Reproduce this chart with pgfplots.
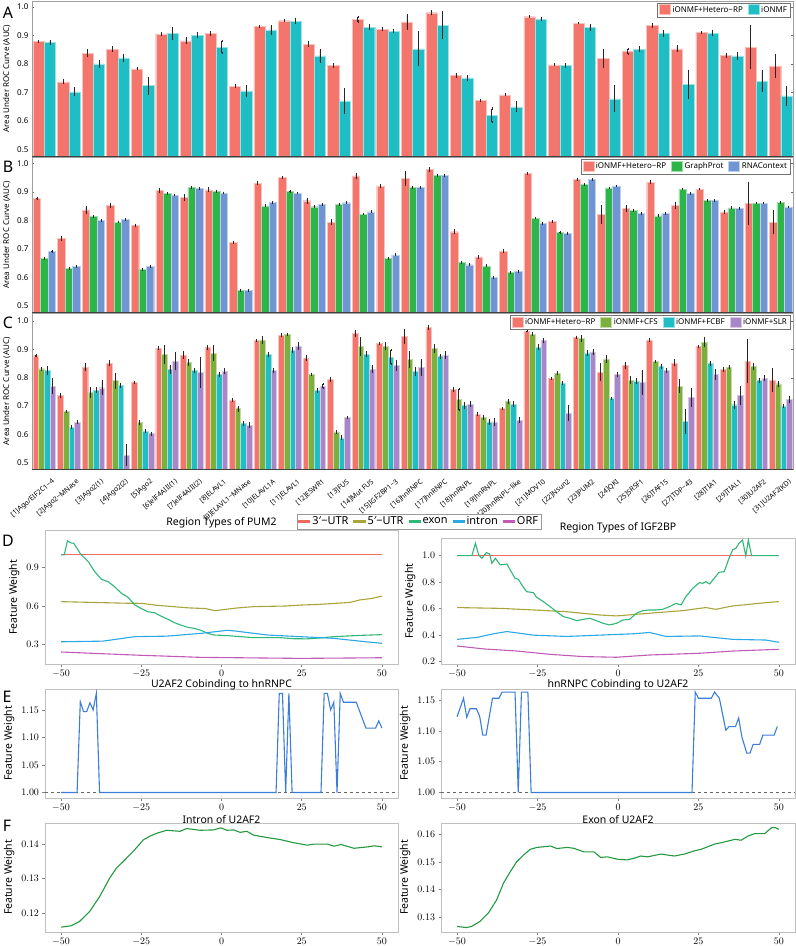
\documentclass[border=0pt]{standalone}
\usepackage{pgfplots}
\pgfplotsset{compat=1.18}
\usepackage{pgfplotstable}
\usepackage{fontspec}
\setmainfont{Noto Sans}
\setsansfont{Noto Sans}
\definecolor{cR}{HTML}{F4756C}
\definecolor{cC}{HTML}{1FBEC4}
\definecolor{cG}{HTML}{2DB54A}
\definecolor{cB}{HTML}{6F95D2}
\definecolor{cO}{HTML}{7DAF3C}
\definecolor{cP}{HTML}{A887C8}
\definecolor{lthree}{HTML}{F06A60}
\definecolor{lfive}{HTML}{A8A53A}
\definecolor{lex}{HTML}{2DB878}
\definecolor{lin}{HTML}{2BA8E6}
\definecolor{lorf}{HTML}{C25AB8}
\definecolor{eblue}{HTML}{3B7DD8}
\definecolor{fgreen}{HTML}{23993F}
\definecolor{frame}{HTML}{A0A0A0}

\pgfplotstableread{
x r re c ce
1 0.878 0.002 0.876 0.005
2 0.737 0.005 0.702 0.012
3 0.837 0.010 0.800 0.009
4 0.852 0.006 0.821 0.010
5 0.783 0.002 0.724 0.028
6 0.905 0.004 0.907 0.018
7 0.881 0.009 0.900 0.007
8 0.907 0.005 0.859 0.022
9 0.722 0.003 0.706 0.017
10 0.931 0.002 0.919 0.014
11 0.951 0.002 0.950 0.006
12 0.869 0.006 0.828 0.020
13 0.794 0.006 0.671 0.042
14 0.956 0.008 0.928 0.006
15 0.921 0.003 0.915 0.004
16 0.947 0.023 0.853 0.058
17 0.979 0.005 0.936 0.044
18 0.760 0.005 0.751 0.006
19 0.672 0.003 0.620 0.024
20 0.692 0.002 0.650 0.016
21 0.965 0.001 0.957 0.002
22 0.797 0.001 0.794 0.005
23 0.943 0.001 0.927 0.007
24 0.820 0.029 0.678 0.044
25 0.843 0.008 0.851 0.007
26 0.934 0.004 0.906 0.008
27 0.853 0.008 0.729 0.047
28 0.910 0.001 0.908 0.008
29 0.830 0.004 0.828 0.009
30 0.859 0.073 0.740 0.034
31 0.793 0.038 0.688 0.031
}\tA

\pgfplotstableread{
x r re g ge b be
1 0.878 0.002 0.666 0.001 0.691 0.001
2 0.737 0.005 0.631 0.001 0.639 0.001
3 0.837 0.010 0.814 0.001 0.800 0.001
4 0.852 0.006 0.794 0.001 0.804 0.001
5 0.783 0.002 0.627 0.001 0.638 0.001
6 0.905 0.004 0.895 0.001 0.889 0.001
7 0.881 0.009 0.916 0.001 0.913 0.001
8 0.907 0.005 0.902 0.001 0.896 0.001
9 0.722 0.003 0.554 0.001 0.554 0.001
10 0.931 0.002 0.851 0.001 0.863 0.001
11 0.951 0.002 0.902 0.001 0.896 0.001
12 0.869 0.006 0.848 0.001 0.856 0.001
13 0.794 0.006 0.857 0.001 0.862 0.001
14 0.956 0.008 0.822 0.001 0.830 0.001
15 0.921 0.003 0.666 0.001 0.679 0.001
16 0.947 0.023 0.916 0.001 0.916 0.001
17 0.979 0.005 0.958 0.001 0.958 0.001
18 0.760 0.005 0.653 0.001 0.644 0.001
19 0.672 0.003 0.640 0.001 0.599 0.001
20 0.692 0.002 0.616 0.001 0.620 0.001
21 0.965 0.001 0.808 0.001 0.790 0.001
22 0.797 0.001 0.758 0.001 0.755 0.001
23 0.943 0.001 0.926 0.001 0.943 0.001
24 0.820 0.029 0.914 0.001 0.921 0.001
25 0.843 0.008 0.835 0.001 0.825 0.001
26 0.934 0.004 0.816 0.001 0.824 0.001
27 0.853 0.008 0.910 0.001 0.894 0.001
28 0.910 0.001 0.870 0.001 0.871 0.001
29 0.830 0.004 0.844 0.001 0.843 0.001
30 0.859 0.073 0.861 0.001 0.861 0.001
31 0.793 0.038 0.864 0.001 0.847 0.001
}\tB

\pgfplotstableread{
x r re g ge c ce p pe
1 0.878 0.002 0.832 0.004 0.826 0.012 0.770 0.025
2 0.737 0.005 0.682 0.002 0.626 0.002 0.643 0.003
3 0.837 0.010 0.749 0.015 0.756 0.006 0.765 0.022
4 0.852 0.006 0.790 0.024 0.773 0.005 0.527 0.036
5 0.783 0.002 0.642 0.005 0.613 0.003 0.603 0.003
6 0.905 0.004 0.883 0.030 0.829 0.012 0.859 0.028
7 0.881 0.009 0.854 0.008 0.826 0.004 0.819 0.050
8 0.907 0.005 0.887 0.024 0.812 0.006 0.824 0.006
9 0.722 0.003 0.691 0.007 0.638 0.004 0.633 0.006
10 0.931 0.002 0.934 0.010 0.883 0.004 0.826 0.006
11 0.951 0.002 0.954 0.002 0.899 0.006 0.913 0.010
12 0.869 0.006 0.812 0.002 0.756 0.005 0.770 0.007
13 0.794 0.006 0.609 0.003 0.588 0.005 0.660 0.003
14 0.956 0.008 0.911 0.030 0.883 0.006 0.830 0.010
15 0.921 0.003 0.911 0.010 0.873 0.025 0.843 0.015
16 0.947 0.023 0.865 0.025 0.822 0.012 0.836 0.025
17 0.979 0.005 0.903 0.012 0.876 0.004 0.880 0.010
18 0.760 0.005 0.723 0.038 0.703 0.008 0.707 0.006
19 0.672 0.003 0.660 0.006 0.644 0.008 0.644 0.010
20 0.692 0.002 0.716 0.006 0.707 0.006 0.650 0.006
21 0.965 0.001 0.954 0.004 0.908 0.007 0.931 0.005
22 0.797 0.001 0.816 0.003 0.782 0.004 0.676 0.025
23 0.943 0.001 0.940 0.008 0.888 0.006 0.891 0.007
24 0.820 0.029 0.867 0.010 0.727 0.003 0.811 0.006
25 0.843 0.008 0.791 0.010 0.789 0.006 0.784 0.040
26 0.934 0.004 0.858 0.002 0.840 0.004 0.826 0.004
27 0.853 0.008 0.771 0.020 0.647 0.040 0.730 0.030
28 0.910 0.001 0.926 0.015 0.850 0.005 0.812 0.015
29 0.830 0.004 0.838 0.004 0.705 0.010 0.737 0.030
30 0.859 0.073 0.840 0.010 0.791 0.006 0.799 0.006
31 0.793 0.038 0.779 0.006 0.701 0.003 0.724 0.008
}\tC

\pgfplotsset{
  barax/.style={
    scale only axis, width=761bp, xmin=0.5, xmax=31.5,
    xtick={1,...,31}, xticklabels={},
    ytick={0.5,0.6,0.7,0.8,0.9,1.0},
    ybar=0pt, clip=true,
    axis line style={draw=frame, line width=0.8bp},
    major tick length=2bp, ytick style={draw=black!60}, xtick style={draw=none},
    yticklabel style={font=\fontsize{8}{9}\selectfont, /pgf/number format/fixed, /pgf/number format/fixed zerofill, /pgf/number format/precision=1, /pgf/number format/assume math mode=true},
    ylabel={Area Under ROC Curve (AUC)},
    ylabel style={font=\fontsize{8}{9}\selectfont},
    legend style={draw=black!55, line width=0.6bp, font=\fontsize{8}{9}\selectfont, legend columns=-1, at={(0.997,0.99)}, anchor=north east, inner sep=1.5bp, /tikz/every even column/.append style={column sep=3bp}},
    legend image code/.code={\fill[##1] (0bp,-4.5bp) rectangle (11bp,5.5bp);},
    after end axis/.code={\draw[black!75, line width=0.9bp] (rel axis cs:0,0) -- (rel axis cs:1,0);},
  },
  bar/.style={fill=#1, draw=#1!45!white, line width=0.4bp,
    error bars/y dir=both, error bars/y explicit,
    error bars/error bar style={black!85, line width=0.6bp},
    error bars/error mark options={black!85, mark size=1.1bp, line width=0.5bp}},
  lineax/.style={
    scale only axis, xmin=-55, xmax=55, xtick={-50,-25,0,25,50},
    axis line style={draw=black!25, line width=0.9bp},
    tick style={draw=black!50, line width=0.5bp}, major tick length=2.5bp, tick align=outside, tick pos=left,
    ticklabel style={font=\fontsize{10}{12}\selectfont},
    scaled y ticks=false,
    ylabel={Feature Weight}, ylabel style={font=\fontsize{10.5}{12}\selectfont},
    title style={font=\fontsize{10.5}{12}\selectfont},
    every axis plot/.append style={line width=1.1bp, mark=none},
  },
  legline/.style={draw=#1, legend image code/.code={\fill[fill=#1!80!white] (0bp,-0.6bp) rectangle (11bp,0.6bp);}},
}

\begin{document}
\begin{tikzpicture}
\path[use as bounding box] (0,0) rectangle (796bp,-946bp);

% ---------- A ----------
\begin{axis}[barax, at={(32bp,-1bp)}, anchor=north west, height=155bp, ymin=0.478, ymax=1.02, bar width=11.3bp]
\addplot[bar=cR] table[x=x,y=r,y error=re]{\tA};
\addplot[bar=cC] table[x=x,y=c,y error=ce]{\tA};
\legend{iONMF+Hetero−RP, iONMF}
\end{axis}

% ---------- B ----------
\begin{axis}[barax, at={(32bp,-157.5bp)}, anchor=north west, height=155bp, ymin=0.476, ymax=1.021, bar width=7.5bp]
\addplot[bar=cR] table[x=x,y=r,y error=re]{\tB};
\addplot[bar=cG] table[x=x,y=g,y error=ge]{\tB};
\addplot[bar=cB] table[x=x,y=b,y error=be]{\tB};
\legend{iONMF+Hetero−RP, GraphProt, RNAContext}
\end{axis}

% ---------- C ----------
\begin{axis}[barax, at={(32bp,-313.5bp)}, anchor=north west, height=155.5bp, ymin=0.478, ymax=1.027, bar width=5.65bp,
  xticklabels={{[1]Ago/EIF2C1−4},{[2]Ago2−MNase},{[3]Ago2(1)},{[4]Ago2(2)},{[5]Ago2},{[6]eIF4AIII(1)},{[7]eIF4AIII(2)},{[8]ELAVL1},{[9]ELAVL1−MNase},{[10]ELAVL1A},{[11]ELAVL1},{[12]ESWR1},{[13]FUS},{[14]Mut FUS},{[15]IGF2BP1−3},{[16]hnRNPC},{[17]hnRNPC},{[18]hnRNPL},{[19]hnRNPL},{[20]hnRNPL−like},{[21]MOV10},{[22]Nsun2},{[23]PUM2},{[24]QKI},{[25]SRSF1},{[26]TAF15},{[27]TDP−43},{[28]TIA1},{[29]TIAL1},{[30]U2AF2},{[31]U2AF2(KD)}},
  xticklabel style={font=\fontsize{7}{8}\selectfont, xshift=9.5bp, yshift=-10bp, rotate=40, anchor=east, inner sep=0pt}]
\addplot[bar=cR] table[x=x,y=r,y error=re]{\tC};
\addplot[bar=cO] table[x=x,y=g,y error=ge]{\tC};
\addplot[bar=cC] table[x=x,y=c,y error=ce]{\tC};
\addplot[bar=cP] table[x=x,y=p,y error=pe]{\tC};
\legend{iONMF+Hetero−RP, iONMF+CFS, iONMF+FCBF, iONMF+SLR}
\end{axis}

% ---------- D left ----------
\begin{axis}[lineax, at={(45bp,-530.5bp)}, anchor=north west, width=353bp, height=133.5bp,
  ymin=0.146, ymax=1.191, ytick={0.3,0.6,0.9},
  yticklabel style={/pgf/number format/.cd, fixed, fixed zerofill, precision=1},
  title={Region Types of PUM2}, title style={yshift=-7bp},
  legend style={at={(0.714,1.127)}, anchor=north west, legend columns=-1, draw=black!40, line width=0.6bp,
    font=\fontsize{11}{13}\selectfont, inner sep=1bp, /tikz/every even column/.append style={column sep=3bp}}]
\addplot[legline=lthree] coordinates {(-50,1.0) (50,1.0)};
\addplot[legline=lfive] coordinates {(-50,0.634) (-40,0.628) (-30,0.622) (-25,0.621) (-20,0.605) (-15,0.595) (-10,0.585) (-5,0.58) (-2,0.563) (0,0.57) (5,0.585) (10,0.595) (20,0.6) (25,0.608) (30,0.612) (35,0.62) (40,0.628) (43,0.647) (47,0.66) (50,0.678)};
\addplot[legline=lex] coordinates {(-50,1.0) (-49,1.0) (-48,1.11) (-47,1.095) (-46,1.09) (-44,1.01) (-41.5,0.947) (-39.5,0.869) (-37.4,0.809) (-35.3,0.79) (-33.3,0.75) (-31.2,0.70) (-29.1,0.668) (-27.1,0.61) (-25,0.58) (-22.9,0.555) (-20.9,0.548) (-18.8,0.52) (-16.7,0.496) (-14.7,0.47) (-12.6,0.45) (-10.5,0.433) (-8.5,0.425) (-6.4,0.41) (-4.3,0.386) (-2.3,0.373) (1.9,0.368) (6,0.36) (10.1,0.352) (14.3,0.352) (18.4,0.352) (22.5,0.344) (26.7,0.343) (30.8,0.35) (34.9,0.36) (39,0.365) (43.2,0.37) (50,0.376)};
\addplot[legline=lin] coordinates {(-50,0.32) (-37,0.325) (-27,0.36) (-17,0.364) (-6.4,0.386) (1.9,0.41) (4,0.405) (14.3,0.373) (24.6,0.36) (34.9,0.347) (45,0.32) (50,0.308)};
\addplot[legline=lorf] coordinates {(-50,0.24) (-27,0.216) (-6.4,0.198) (24.6,0.19) (50,0.195)};
\legend{3′−UTR, 5′−UTR, exon, intron, ORF}
\end{axis}

% ---------- D right ----------
\begin{axis}[lineax, at={(441bp,-538bp)}, anchor=north west, width=354bp, height=126bp,
  ymin=0.182, ymax=1.133, ytick={0.2,0.4,0.6,0.8,1.0},
  yticklabel style={/pgf/number format/.cd, fixed, fixed zerofill, precision=1},
  title={Region Types of IGF2BP}, title style={yshift=-5bp}]
\addplot[draw=lthree] coordinates {(-50,1.0) (50,1.0)};
\addplot[draw=lfive] coordinates {(-50,0.608) (-36.6,0.602) (-26.3,0.590) (-16,0.577) (-5.7,0.552) (-0.5,0.545) (9.8,0.565) (20.1,0.585) (27.3,0.608) (30.4,0.595) (35.6,0.620) (45.9,0.645) (50,0.653)};
\addplot[draw=lex] coordinates {(-50,1.0) (-45.4,1.0) (-44.3,1.093) (-43.3,1.005) (-42.3,0.980) (-40.9,1.023) (-39.9,1.013) (-39.2,0.942) (-38.1,0.98) (-36.6,0.93) (-34.5,0.937) (-33.5,0.892) (-32,0.829) (-30.9,0.821) (-29.9,0.779) (-28.4,0.728) (-26.3,0.721) (-25.3,0.686) (-23.2,0.653) (-21.1,0.615) (-19.1,0.577) (-17,0.540) (-14.9,0.527) (-12.9,0.509) (-10.8,0.519) (-8.8,0.527) (-6.7,0.509) (-4.6,0.489) (-2.6,0.477) (-0.5,0.489) (1.5,0.514) (3.6,0.519) (5.7,0.565) (7.7,0.585) (9.8,0.590) (11.9,0.590) (13.9,0.595) (16,0.615) (18,0.640) (19.6,0.628) (21.1,0.691) (23.2,0.753) (25.3,0.796) (26.3,0.791) (27.3,0.804) (28.4,0.786) (29.9,0.829) (31.4,0.874) (33,0.879) (34.5,0.980) (35.6,1.043) (36.6,1.055) (37.6,1.093) (38.7,1.118) (39.7,0.997) (40.5,1.118) (41.5,1.0) (50,1.0)};
\addplot[draw=lin] coordinates {(-50,0.368) (-43.8,0.383) (-38.7,0.41) (-34.5,0.427) (-26.3,0.40) (-16,0.39) (-5.7,0.40) (4.6,0.41) (9.8,0.42) (14.9,0.39) (25.3,0.394) (35.6,0.368) (45.9,0.363) (50,0.346)};
\addplot[draw=lorf] coordinates {(-50,0.318) (-41.8,0.296) (-31.4,0.28) (-21.1,0.255) (-10.8,0.238) (-0.5,0.233) (9.8,0.25) (25.3,0.263) (35.6,0.28) (50,0.293)};
\end{axis}

% ---------- E left ----------
\begin{axis}[lineax, at={(45bp,-689bp)}, anchor=north west, width=353bp, height=109bp,
  ymin=0.990, ymax=1.188, ytick={1.00,1.05,1.10,1.15},
  yticklabel style={/pgf/number format/.cd, fixed, fixed zerofill, precision=2},
  title={U2AF2 Cobinding to hnRNPC}, title style={yshift=-10bp}]
\addplot[black!60, dashed, line width=1bp] coordinates {(-55,1.0) (55,1.0)};
\addplot[draw=eblue] coordinates {(-50,1.0) (-45,1.0) (-44,1.165) (-43,1.147) (-42,1.147) (-41,1.163) (-40,1.150) (-39,1.180) (-38,1.0) (17,1.0) (18,1.180) (19,1.180) (20,1.0) (21,1.180) (22,1.0) (31,1.0) (32,1.180) (33,1.180) (34,1.150) (35,1.164) (36,1.0) (37,1.180) (38,1.164) (42,1.164) (45,1.117) (48,1.117) (49,1.130) (50,1.117)};
\end{axis}

% ---------- E right ----------
\begin{axis}[lineax, at={(441bp,-689bp)}, anchor=north west, width=354bp, height=109bp,
  ymin=0.991, ymax=1.168, ytick={1.00,1.05,1.10,1.15},
  yticklabel style={/pgf/number format/.cd, fixed, fixed zerofill, precision=2},
  title={hnRNPC Cobinding to U2AF2}, title style={yshift=-10bp}]
\addplot[black!60, dashed, line width=1bp] coordinates {(-55,1.0) (55,1.0)};
\addplot[draw=eblue] coordinates {(-50,1.123) (-48,1.153) (-47,1.122) (-46,1.136) (-44,1.136) (-43,1.124) (-42,1.093) (-41,1.093) (-39,1.153) (-37,1.153) (-36,1.163) (-32,1.163) (-31,1.0) (-30,1.163) (-28,1.163) (-27,1.0) (23,1.0) (24,1.163) (25,1.153) (29,1.153) (30,1.163) (31.5,1.153) (33.5,1.101) (34.5,1.107) (36.5,1.107) (37.5,1.121) (38.5,1.090) (40,1.064) (41,1.064) (42,1.078) (44,1.078) (45,1.093) (48.5,1.093) (49.5,1.107)};
\end{axis}

% ---------- F left ----------
\begin{axis}[lineax, at={(45bp,-823bp)}, anchor=north west, width=353bp, height=109bp,
  ymin=0.1146, ymax=0.1461, ytick={0.12,0.13,0.14},
  yticklabel style={/pgf/number format/.cd, fixed, fixed zerofill, precision=2},
  title={Intron of U2AF2}, title style={yshift=-10bp}]
\addplot[draw=fgreen] coordinates {(-50,0.1160) (-46.9,0.1164) (-44.3,0.1176) (-41.1,0.1205) (-38,0.1248) (-34.9,0.1301) (-32.8,0.1330) (-30.7,0.1349) (-27.6,0.1378) (-24.4,0.1412) (-22.3,0.1423) (-20.3,0.1431) (-17.1,0.1440) (-12.9,0.1437) (-10.9,0.1445) (-6.7,0.1440) (-2.5,0.1441) (-0.2,0.1447) (1.7,0.1440) (3.8,0.1441) (5.8,0.1434) (7.9,0.1437) (10,0.1426) (14.2,0.1419) (18.4,0.1413) (22.5,0.1404) (26.7,0.1397) (28.8,0.1400) (33,0.1400) (35.1,0.1394) (37.2,0.1399) (41.3,0.1388) (45.5,0.1392) (47.6,0.1395) (50,0.1392)};
\end{axis}

% ---------- F right ----------
\begin{axis}[lineax, at={(441bp,-823bp)}, anchor=north west, width=354bp, height=109bp,
  ymin=0.1247, ymax=0.164, ytick={0.13,0.14,0.15,0.16},
  yticklabel style={/pgf/number format/.cd, fixed, fixed zerofill, precision=2},
  title={Exon of U2AF2}, title style={yshift=-10bp}]
\addplot[draw=fgreen] coordinates {(-50,0.1267) (-47.1,0.1263) (-45.5,0.1267) (-42.9,0.1285) (-40.3,0.1315) (-37.7,0.1363) (-35.6,0.1423) (-33.5,0.1464) (-31.5,0.1500) (-29.4,0.1524) (-27.3,0.1545) (-25.2,0.1552) (-21,0.1557) (-19,0.1548) (-15.8,0.1552) (-13.8,0.1549) (-10.6,0.1536) (-7.5,0.1536) (-5.4,0.1516) (-3.3,0.1518) (0,0.1509) (2.9,0.1507) (5,0.1513) (7.1,0.1521) (9.2,0.1518) (13.3,0.1528) (17.5,0.1521) (20.6,0.1528) (23.8,0.1540) (25.8,0.1545) (30,0.1564) (32.1,0.1569) (36.3,0.1581) (38.3,0.1578) (40.4,0.1593) (42.5,0.1602) (45.6,0.1602) (47.7,0.1623) (48.8,0.1624) (50,0.1617)};
\end{axis}

% panel letters
\begin{scope}[every node/.style={font=\fontsize{16}{18}\selectfont, inner sep=0pt}]
\node at (8bp,-13bp) {A};
\node at (8bp,-167bp) {B};
\node at (8bp,-323bp) {C};
\node at (8bp,-541bp) {D};
\node at (7bp,-697bp) {E};
\node at (7bp,-826bp) {F};
\end{scope}
\end{tikzpicture}
\end{document}
